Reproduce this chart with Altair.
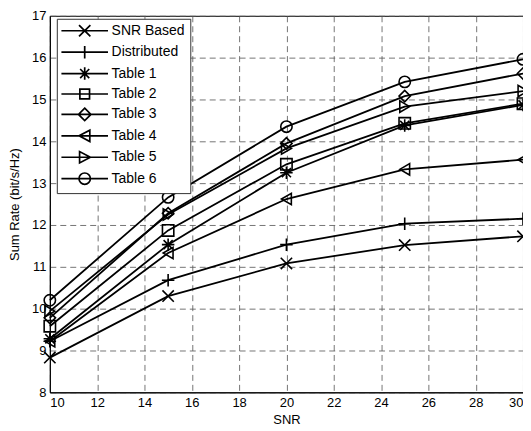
import altair as alt
import pandas as pd

snr = [10, 15, 20, 25, 30]
series_names = ["SNR Based", "Distributed", "Table 1", "Table 2", "Table 3", "Table 4", "Table 5", "Table 6"]
snr_based = [8.83, 10.30, 11.08, 11.52, 11.73]
distributed = [9.22, 10.68, 11.53, 12.03, 12.15]
table1 = [9.28, 11.53, 13.25, 14.38, 14.87]
table2 = [9.58, 11.87, 13.45, 14.43, 14.90]
table3 = [9.78, 12.28, 13.95, 15.08, 15.62]
table4 = [9.22, 11.33, 12.62, 13.33, 13.56]
table5 = [9.94, 12.25, 13.83, 14.83, 15.20]
table6 = [10.20, 12.66, 14.35, 15.42, 15.96]
all_values = [snr_based, distributed, table1, table2, table3, table4, table5, table6]

x_ticks = list(range(10, 31, 2))
y_ticks = list(range(8, 18))

rows = []
for name, vals in zip(series_names, all_values):
    for x, y in zip(snr, vals):
        rows.append({"series": name, "snr": x, "rate": y})
df = pd.DataFrame(rows)

# marker shapes for the plot
X_P = "M-1,-1L1,1M-1,1L1,-1"
PLUS_P = "M-1.1,0L1.1,0M0,-1.1L0,1.1"
AST_P = "M-1.1,0L1.1,0M0,-1.1L0,1.1M-0.8,-0.8L0.8,0.8M-0.8,0.8L0.8,-0.8"
plot_shapes = [X_P, PLUS_P, AST_P, "square", "diamond", "triangle-left", "triangle-right", "circle"]

# legend symbols: line + marker
LINE = "M-4.1,0L4.1,0"
SQ_P = "M-0.85,-0.85L0.85,-0.85L0.85,0.85L-0.85,0.85Z"
DIA_P = "M0,-1.1L1.1,0L0,1.1L-1.1,0Z"
TL_P = "M-1,0L0.9,-1L0.9,1Z"
TR_P = "M1,0L-0.9,-1L-0.9,1Z"
CIR_P = "M-1,0A1,1,0,1,1,1,0A1,1,0,1,1,-1,0Z"
legend_shapes = [LINE + m for m in [X_P, PLUS_P, AST_P, SQ_P, DIA_P, TL_P, TR_P, CIR_P]]

font = "Liberation Sans"

xenc = alt.X("snr:Q", scale=alt.Scale(domain=[10, 30], nice=False),
             axis=alt.Axis(values=x_ticks, title="SNR", titlePadding=4, labelPadding=4))
yenc = alt.Y("rate:Q", scale=alt.Scale(domain=[8, 17], nice=False, zero=False),
             axis=alt.Axis(values=y_ticks, title="Sum Rate (bit/s/Hz)", titlePadding=10, labelPadding=4))

lines = alt.Chart(df).mark_line(color="black", strokeWidth=1.8).encode(
    x=xenc, y=yenc, detail="series:N"
)

points = alt.Chart(df).mark_point(filled=False, color="black", strokeWidth=1.6, size=130, opacity=1).encode(
    x=xenc, y=yenc,
    shape=alt.Shape("series:N", scale=alt.Scale(domain=series_names, range=plot_shapes), legend=None),
)

legend_layer = alt.Chart(df).transform_filter(alt.datum.rate < -1000).mark_point(
    filled=False, color="black", strokeWidth=1.6, opacity=1
).encode(
    x=xenc, y=yenc,
    shape=alt.Shape("series:N", scale=alt.Scale(domain=series_names, range=legend_shapes),
                    legend=alt.Legend(title=None, orient="none", legendX=7, legendY=3,
                                      symbolSize=130, symbolOffset=16, labelOffset=20,
                                      symbolStrokeWidth=1.7, symbolStrokeColor="black",
                                      labelFontSize=14, labelFont=font, labelColor="black",
                                      rowPadding=1.5, padding=5, strokeColor="#333",
                                      fillColor="white", cornerRadius=0)),
)

chart = alt.layer(lines, points, legend_layer).resolve_scale(shape="independent").properties(
    width=475, height=378,
    autosize=alt.AutoSizeParams(type="none"),
    padding={"left": 42, "top": 7, "right": 0, "bottom": 38},
).configure_view(stroke="black", strokeWidth=1).configure_axis(
    labelFont=font, titleFont=font, labelFontSize=13, titleFontSize=13,
    labelColor="black", titleColor="black", titleFontWeight="normal",
    domainColor="black", ticks=False,
    gridColor="#555", gridDash=[6, 4], gridWidth=0.9, gridOpacity=0.9,
)

chart.save("out.html", embed_options={"renderer": "svg", "actions": False})
